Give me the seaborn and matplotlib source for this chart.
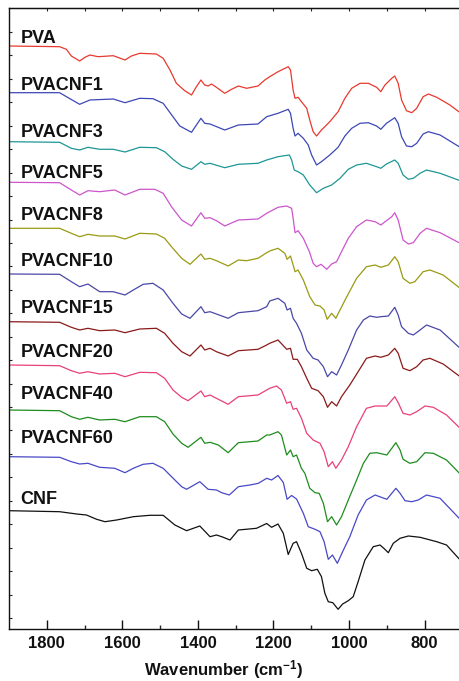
import numpy as np
import pandas as pd
import matplotlib
matplotlib.use("Agg")
import matplotlib.pyplot as plt
import seaborn as sns

# ---------------- data (transmittance, a.u., offset spectra) ----------------
samples = ["PVA", "PVACNF1", "PVACNF3", "PVACNF5", "PVACNF8", "PVACNF10",
           "PVACNF15", "PVACNF20", "PVACNF40", "PVACNF60", "CNF"]
colors = ["#e8392e", "#3c48b4", "#1e9696", "#cc55cc", "#9a9a14", "#4a48a8",
          "#8b1a1a", "#e8407a", "#1e8c1e", "#4848c8", "#111111"]
label_y = [585.7, 539, 492.3, 450.7, 409, 363, 316.3, 271.7, 229.7, 185.7, 124.7]

wn_pva = [1900, 1766, 1748, 1735, 1713, 1699, 1686, 1664, 1624, 1593, 1576, 1554, 1510, 1492,
          1474, 1457, 1435, 1417, 1404, 1392, 1382, 1373, 1364, 1351, 1329, 1311, 1293, 1271,
          1241, 1223, 1210, 1188, 1161, 1155, 1148, 1143, 1135, 1126, 1112, 1104, 1095, 1086,
          1073, 1051, 1029, 1011, 993, 971, 949, 927, 916, 905, 887, 879, 870, 861, 848, 834,
          821, 804, 790, 768, 733, 706]
t_pva = [583, 582.3, 579.7, 573, 568, 571.7, 574, 572.3, 573.3, 569, 573, 575.7, 575, 570.7,
         559, 545.7, 538.3, 534, 542.3, 549, 544, 543, 545, 541.7, 535.7, 539.7, 543, 540.7,
         543, 549, 552.3, 557.3, 562.3, 559, 539, 530.7, 531.7, 527.3, 520.7, 509, 497.3, 493,
         499, 507.3, 517.3, 530.7, 540.7, 545.7, 545.7, 541.7, 537.3, 544, 550.7, 553, 545.7,
         529, 518.3, 516.3, 520.7, 532.3, 535, 531.7, 524, 516.3]

wn_cnf1 = [1900, 1766, 1748, 1713, 1686, 1624, 1593, 1554, 1519, 1492, 1466, 1448, 1417, 1392,
           1382, 1368, 1329, 1293, 1241, 1218, 1188, 1161, 1155, 1148, 1143, 1135, 1121, 1108,
           1099, 1086, 1073, 1051, 1029, 1011, 993, 971, 949, 927, 916, 901, 879, 870, 861, 848,
           834, 821, 804, 790, 759, 706]
t_cnf1 = [536.3, 536.3, 532.3, 524.7, 529, 530, 526.3, 530.7, 530.3, 525.7, 512.3, 503, 496.7,
          510.7, 505.7, 505, 499, 504, 505, 512.3, 515.7, 519.7, 515.7, 500.7, 493, 495.7, 490.7,
          484, 474, 464, 467.3, 474, 481.7, 493, 500.7, 505.7, 506.3, 503, 499.7, 505.7, 511.3,
          505.7, 492.3, 483, 482.3, 485.7, 495, 497.3, 494, 481.7]

wn_cnf3 = [1900, 1766, 1735, 1713, 1691, 1660, 1624, 1593, 1554, 1510, 1488, 1466, 1443, 1417,
           1392, 1382, 1368, 1329, 1293, 1241, 1218, 1188, 1158, 1152, 1145, 1135, 1121, 1104,
           1086, 1068, 1046, 1024, 1002, 980, 954, 927, 916, 901, 879, 870, 857, 843, 830, 812,
           795, 759, 706]
t_cnf3 = [487.3, 486.7, 480.7, 479, 481.7, 479.7, 479.7, 477, 481.7, 481.3, 477.3, 469.7, 463,
          459.7, 467.3, 464.7, 465.7, 461.3, 464.7, 465.7, 469, 472.3, 474, 469, 459, 457.3, 454,
          444, 436.3, 440.7, 444, 450.7, 459.7, 464, 465.7, 462.3, 460.7, 465, 469, 465.7, 454,
          449.7, 450.7, 455.7, 459, 455.7, 448.3]

wn_cnf5 = [1900, 1766, 1735, 1713, 1691, 1660, 1620, 1593, 1554, 1514, 1492, 1470, 1443, 1417,
           1392, 1382, 1368, 1351, 1329, 1293, 1241, 1218, 1188, 1165, 1152, 1148, 1143, 1135,
           1121, 1105, 1095, 1086, 1074, 1059, 1046, 1033, 1020, 1002, 980, 954, 931, 916, 901,
           887, 879, 870, 857, 843, 830, 812, 795, 759, 706]
t_cnf5 = [446.7, 446.3, 439, 434, 438.3, 437.3, 439, 434, 439.7, 439.7, 435.7, 422.3, 409, 403,
          416.3, 410.7, 411.3, 408.3, 403, 409, 410, 415.7, 421.7, 423, 420.7, 410.7, 396.3,
          398.3, 390.7, 377.3, 365.7, 362.3, 364.7, 359.7, 365, 367.3, 377.3, 390.7, 402.3, 409,
          407.3, 404, 408.3, 412.3, 416.3, 409, 389, 385, 386.3, 395.7, 400.7, 396.3, 385.7]

wn_cnf8 = [1900, 1766, 1735, 1713, 1691, 1660, 1620, 1593, 1554, 1510, 1488, 1470, 1443, 1421,
           1392, 1382, 1368, 1351, 1320, 1293, 1271, 1241, 1218, 1210, 1188, 1170, 1164, 1155,
           1148, 1143, 1135, 1121, 1104, 1090, 1077, 1066, 1058, 1046, 1035, 1024, 1006, 980,
           954, 931, 916, 896, 879, 870, 857, 839, 826, 804, 786, 751, 706]
t_cnf8 = [400.7, 400.7, 395.7, 392.3, 394.7, 393, 393, 390, 395.7, 395, 390.7, 382.3, 370.7,
          364.7, 375, 369.7, 370.7, 368.3, 363, 369, 368.3, 370.7, 376.3, 378, 380.7, 375.7,
          369.7, 373, 364, 357.3, 359, 349, 332.3, 324, 323, 319, 309.7, 315.7, 310.7, 319,
          332.3, 350.7, 362.3, 364, 361.7, 364, 372.3, 367.3, 350.7, 345.7, 347.3, 357.3, 359,
          354, 340.7]

wn_cnf10 = [1900, 1766, 1735, 1713, 1691, 1660, 1624, 1593, 1571, 1545, 1519, 1492, 1466, 1443,
            1421, 1392, 1382, 1368, 1351, 1320, 1293, 1241, 1218, 1210, 1188, 1170, 1164, 1155,
            1148, 1139, 1126, 1112, 1095, 1082, 1068, 1057, 1046, 1033, 1020, 1002, 980, 962,
            945, 927, 916, 896, 879, 870, 861, 843, 830, 812, 795, 759, 706]
t_cnf10 = [355, 354.7, 347.3, 342.3, 345, 337.3, 337.3, 334, 339, 344.7, 345.7, 339, 325.7, 315,
           310.7, 322.3, 316.3, 317.3, 315, 310.7, 316.3, 318.3, 322.3, 328, 330.7, 325.7, 319,
           320.7, 310.7, 305.7, 295.7, 279, 270.7, 269, 262.3, 252.3, 257.3, 254, 264, 279, 299,
           309, 313, 311.7, 312.3, 313, 321.7, 314, 302.3, 295.7, 294, 299, 304, 299, 280.7]

wn_cnf15 = [1900, 1766, 1735, 1713, 1691, 1660, 1620, 1593, 1554, 1510, 1488, 1466, 1443, 1421,
            1392, 1382, 1368, 1351, 1320, 1293, 1241, 1218, 1210, 1188, 1165, 1155, 1148, 1137,
            1126, 1112, 1099, 1082, 1068, 1057, 1046, 1033, 1020, 998, 976, 954, 931, 916, 896,
            879, 870, 857, 839, 821, 804, 786, 751, 706]
t_cnf15 = [307.3, 306.7, 301.7, 299, 300.7, 298.3, 299, 296.3, 300, 300.7, 295.7, 285.7, 277.3,
           273, 284, 279, 280.7, 277.3, 273, 278.3, 279.7, 284, 285.7, 289, 279.7, 280.7, 269.7,
           269.7, 262.3, 250.7, 240.7, 238.3, 232.3, 221.7, 227.3, 223, 232.3, 244, 257.3, 270.7,
           273, 271.7, 274, 280.7, 275.7, 260.7, 258.3, 262.3, 269, 270.7, 265, 252.3]

wn_cnf20 = [1900, 1766, 1735, 1713, 1691, 1660, 1620, 1593, 1554, 1510, 1488, 1466, 1443, 1426,
            1392, 1382, 1368, 1351, 1320, 1293, 1241, 1218, 1210, 1192, 1179, 1165, 1155, 1148,
            1139, 1126, 1112, 1095, 1077, 1066, 1055, 1044, 1035, 1020, 1002, 980, 954, 931,
            900, 879, 870, 857, 839, 821, 799, 777, 742, 706]
t_cnf20 = [264, 263.3, 258.3, 255.7, 257.3, 255, 255.7, 252.3, 256.7, 256.3, 250.7, 239, 231.7,
           228.3, 238, 232.3, 234, 230.7, 224.7, 232.3, 234, 239, 240.7, 243, 239, 225.7, 227.3,
           219.7, 220.7, 210.7, 195.7, 189, 185.7, 177.3, 162.3, 167.3, 160.7, 169, 182.3, 202.3,
           220.7, 223, 223, 232.3, 226.3, 215.7, 214, 217.3, 223, 221.7, 214, 200.7]

wn_cnf40 = [1900, 1766, 1735, 1713, 1691, 1660, 1620, 1593, 1554, 1510, 1488, 1466, 1443, 1426,
            1392, 1382, 1368, 1346, 1320, 1293, 1241, 1218, 1210, 1188, 1179, 1165, 1155, 1148,
            1139, 1126, 1117, 1104, 1090, 1079, 1068, 1057, 1046, 1033, 1020, 1002, 980, 962,
            945, 927, 900, 876, 865, 857, 839, 821, 799, 777, 742, 706]
t_cnf40 = [219, 218.3, 212.3, 209.7, 211.7, 209, 209.7, 207.3, 212.3, 212.3, 207.3, 195, 185.7,
           181.7, 191.7, 185.7, 186.7, 184, 176.3, 186.3, 188, 194, 194, 197.3, 194, 174, 179,
           172.3, 174, 160.7, 155.7, 140.7, 136.3, 135.7, 125.7, 107.3, 112.3, 104, 112.3, 129,
           149, 165.7, 175.7, 176.3, 174, 186.3, 179, 169.7, 165.7, 167.3, 176.3, 175.7, 169, 155]

wn_cnf60 = [1900, 1766, 1735, 1713, 1691, 1660, 1620, 1593, 1571, 1545, 1519, 1492, 1461, 1443,
            1430, 1395, 1373, 1351, 1337, 1317, 1293, 1262, 1240, 1218, 1205, 1188, 1174, 1164,
            1152, 1139, 1121, 1108, 1090, 1077, 1066, 1055, 1044, 1031, 1017, 998, 976, 954, 931,
            900, 876, 865, 852, 834, 817, 795, 759, 706]
t_cnf60 = [172.3, 171.7, 167.3, 165, 165.7, 161.7, 160.7, 156.3, 160.7, 164.7, 165.7, 160.7, 149,
           142.3, 139.7, 147.3, 139.7, 139, 136.3, 134, 142.3, 144, 145.7, 150.7, 149, 153.5,
           146.5, 129.7, 133.5, 130, 115.7, 102.3, 99.7, 97.3, 87.3, 69.7, 74, 65.7, 77.3, 92.3,
           114, 129, 134, 129.7, 140.7, 135.7, 128.3, 127.3, 129, 134, 130.7, 109.7]

wn_cnf = [1900, 1766, 1721, 1695, 1668, 1646, 1615, 1571, 1527, 1492, 1461, 1430, 1395, 1368,
          1351, 1337, 1315, 1293, 1245, 1218, 1205, 1188, 1174, 1161, 1148, 1139, 1126, 1112,
          1099, 1084, 1073, 1064, 1055, 1043, 1029, 1017, 1002, 989, 976, 958, 936, 918, 908,
          896, 883, 865, 843, 812, 768, 742, 706]
t_cnf = [118.3, 117.3, 115, 114, 109.7, 107.3, 109, 112.3, 113.7, 113.7, 104, 98.3, 103, 92.3,
         94, 92.3, 89, 99, 100.7, 105.5, 101.7, 105, 95.7, 74.5, 85.7, 87.3, 75.7, 60.7, 58.3,
         59.7, 52.3, 35.7, 27.3, 26.3, 19.7, 25, 28.3, 32.3, 47.3, 69, 82.3, 84, 80.7, 76.3, 85.7,
         90.7, 93, 91.7, 87.3, 84, 69]

spectra = [(wn_pva, t_pva), (wn_cnf1, t_cnf1), (wn_cnf3, t_cnf3), (wn_cnf5, t_cnf5),
           (wn_cnf8, t_cnf8), (wn_cnf10, t_cnf10), (wn_cnf15, t_cnf15), (wn_cnf20, t_cnf20),
           (wn_cnf40, t_cnf40), (wn_cnf60, t_cnf60), (wn_cnf, t_cnf)]

frames = [pd.DataFrame({"wavenumber": w, "transmittance": t, "sample": s})
          for s, (w, t) in zip(samples, spectra)]
df = pd.concat(frames, ignore_index=True)

# ---------------- plot ----------------
sns.set_style("ticks")
plt.rcParams["font.family"] = ["Liberation Sans", "DejaVu Sans"]
plt.rcParams["font.weight"] = "bold"
plt.rcParams["axes.labelweight"] = "bold"
plt.rcParams["mathtext.fontset"] = "custom"
plt.rcParams["mathtext.rm"] = "Liberation Sans:bold"
plt.rcParams["mathtext.it"] = "Liberation Sans:bold"
plt.rcParams["mathtext.bf"] = "Liberation Sans:bold"

fig = plt.figure(figsize=(4.6, 6.81), dpi=100)
ax = fig.add_axes([0.01957, 0.07592, 0.98565, 0.91189])

sns.lineplot(data=df, x="wavenumber", y="transmittance", hue="sample",
             palette=dict(zip(samples, colors)), estimator=None, sort=False,
             legend=False, linewidth=0.9, ax=ax)

ax.set_xlim(1900, 700)
ax.set_ylim(-0.3, 620.7)

for s, yb in zip(samples, label_y):
    ax.text(1870, yb, s, fontsize=13, fontweight="bold", ha="left", va="baseline",
            color="#111111")

ax.set_xticks([1800, 1600, 1400, 1200, 1000, 800])
ax.set_xticks([1700, 1500, 1300, 1100, 900, 700], minor=True)
ax.tick_params(axis="x", which="major", direction="in", length=6.3, width=1.0,
               labelsize=12, pad=5, colors="#111111")
ax.tick_params(axis="x", which="minor", direction="in", length=3.2, width=1.0)
ax.set_yticks(np.arange(11, 600, 23.44))
ax.set_yticklabels([])
ax.tick_params(axis="y", direction="in", length=2.2, width=0.8)

sec = ax.secondary_xaxis("top")
sec.set_xticks(np.arange(1800, 699, -100))
sec.set_xticklabels([])
sec.tick_params(direction="in", length=2.2, width=0.8)

for sp in ["left", "bottom", "top"]:
    ax.spines[sp].set_linewidth(1.0)
    ax.spines[sp].set_color("#111111")
ax.spines["right"].set_visible(False)

ax.set_ylabel("")
ax.set_xlabel("Wavenumber (cm$^{-1}$)", fontsize=12, fontweight="bold", color="#111111")
ax.xaxis.set_label_coords(0.474, -0.047)

fig.savefig("out.png", dpi=100)
